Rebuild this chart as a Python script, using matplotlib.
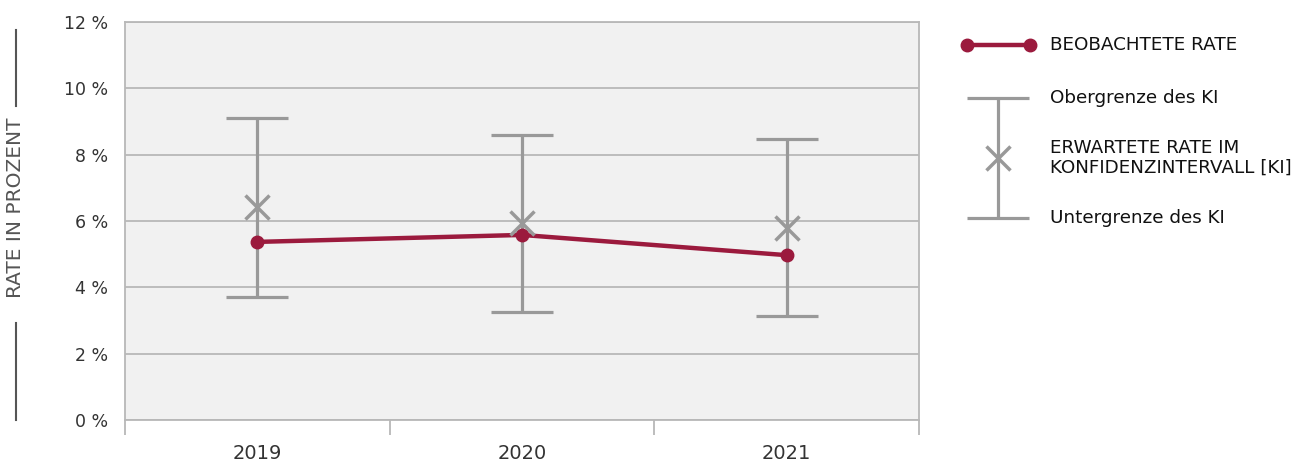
import matplotlib
matplotlib.use('Agg')
import matplotlib.pyplot as plt
import numpy as np

years = ['2019', '2020', '2021']
observed = [5.37, 5.58, 4.97]
expected = [6.42, 5.94, 5.79]
ci_upper = [9.10, 8.59, 8.47]
ci_lower = [3.71, 3.26, 3.14]
y_ticks = [0, 2, 4, 6, 8, 10, 12]

RED = '#9b1a3d'
GREY = '#999999'
GRID = '#b8b8b8'

fig = plt.figure(figsize=(13.11, 4.63), dpi=100)
ax = fig.add_axes([125 / 1311, 1 - 420 / 463, 794 / 1311, 398 / 463])
ax.set_facecolor('#f1f1f1')

x = np.arange(len(years))
exp = np.array(expected)
lo = exp - np.array(ci_lower)
hi = np.array(ci_upper) - exp

ax.errorbar(x, exp, yerr=[lo, hi], fmt='none', ecolor=GREY, elinewidth=2.3,
            capsize=22, capthick=2.3, zorder=3)
ax.plot(x, observed, color=RED, lw=3.2, marker='o', ms=9, zorder=4)
ax.plot(x, expected, ls='none', marker='x', ms=17, mew=2.5, color=GREY, zorder=5)

ax.set_xlim(-0.5, len(years) - 0.5)
ax.set_ylim(0, 12)
ax.set_yticks(y_ticks)
ax.set_yticklabels([f'{v} %' for v in y_ticks], fontsize=12.5, color='#333333')
ax.yaxis.grid(True, color=GRID, lw=1.3)
ax.set_axisbelow(True)
ax.tick_params(axis='y', length=0, pad=12)

ax.set_xticks(x)
ax.set_xticklabels(years, fontsize=14, color='#333333')
ax.set_xticks(np.arange(len(years) + 1) - 0.5, minor=True)
ax.tick_params(axis='x', which='major', length=0, pad=17)
ax.tick_params(axis='x', which='minor', length=11, width=1.3, color=GRID)
for s in ax.spines.values():
    s.set_color(GRID)
    s.set_linewidth(1.3)

# y axis title with side rules
fig.text(16 / 1311, 1 - 208 / 463, 'RATE IN PROZENT', rotation=90, ha='center', va='center',
         fontsize=14.5, color='#555555')
fig.add_artist(plt.Line2D([16 / 1311] * 2, [1 - 30 / 463, 1 - 106 / 463], color='#555555', lw=1.5))
fig.add_artist(plt.Line2D([16 / 1311] * 2, [1 - 323 / 463, 1 - 420 / 463], color='#555555', lw=1.5))

# legend
lg = fig.add_axes([940 / 1311, 1 - 240 / 463, 371 / 1311, 220 / 463])
lg.set_xlim(0, 1)
lg.set_ylim(0, 1)
lg.axis('off')
lg.plot([0.073, 0.243], [0.886, 0.886], color=RED, lw=3.2, marker='o', ms=9,
        solid_capstyle='butt')
lg.errorbar([0.156], [0.373], yerr=[[0.273], [0.272]], fmt='none', ecolor=GREY,
            elinewidth=2.3, capsize=22, capthick=2.3)
lg.plot([0.156], [0.373], ls='none', marker='x', ms=17, mew=2.5, color=GREY)
tx = 0.296
fs = 13.2
lg.text(tx, 0.886, 'BEOBACHTETE RATE', va='center', fontsize=fs, color='#111111')
lg.text(tx, 0.645, 'Obergrenze des KI', va='center', fontsize=fs, color='#111111')
lg.text(tx, 0.373, 'ERWARTETE RATE IM\nKONFIDENZINTERVALL [KI]', va='center',
        fontsize=fs, color='#111111', linespacing=1.15)
lg.text(tx, 0.1, 'Untergrenze des KI', va='center', fontsize=fs, color='#111111')

plt.savefig('out.png', dpi=100)
